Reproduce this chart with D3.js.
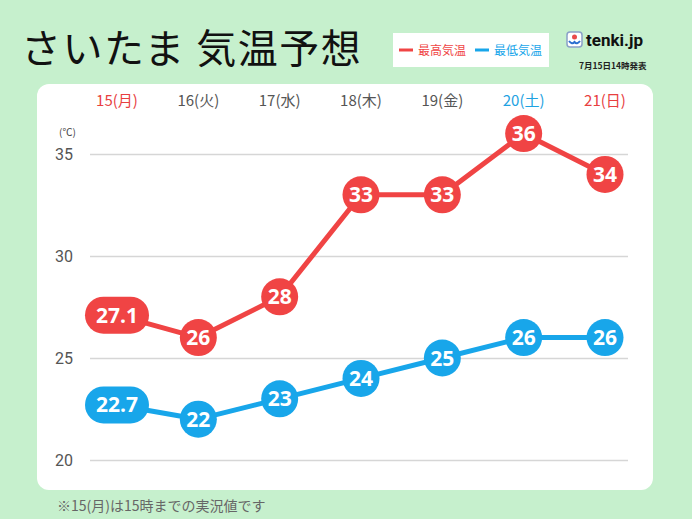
<!DOCTYPE html>
<html>
<head>
<meta charset="utf-8">
<script src="https://cdn.jsdelivr.net/npm/d3@7"></script>
<style>
  body { margin: 0; background: #c6f0cd; }
  svg { display: block; font-family: "Noto Sans CJK JP", "Noto Sans", sans-serif; }
</style>
</head>
<body>
<svg id="chart"></svg>
<script>
// data
const days = ["15(月)", "16(火)", "17(水)", "18(木)", "19(金)", "20(土)", "21(日)"];
const dayColors = ["#e8403f", "#555555", "#555555", "#555555", "#555555", "#1ea2e2", "#e8403f"];
const highs = [27.1, 26, 28, 33, 33, 36, 34];
const lows = [22.7, 22, 23, 24, 25, 26, 26];
const yTicks = [20, 25, 30, 35];

const W = 692, H = 519;
const red = "#f04444", blue = "#18a6ea";

const svg = d3.select("#chart").attr("width", W).attr("height", H);

svg.append("rect").attr("width", W).attr("height", H).attr("fill", "#c6f0cd");

// white panel
svg.append("rect")
    .attr("x", 37).attr("y", 84)
    .attr("width", 616).attr("height", 406)
    .attr("rx", 12)
    .attr("fill", "#fff");

// title
svg.append("text")
    .attr("x", 21).attr("y", 63)
    .attr("font-size", 40)
    .attr("font-weight", 400)
    .attr("letter-spacing", 1.5)
    .attr("fill", "#111")
    .text("さいたま 気温予想");

// legend
const legend = svg.append("g");
legend.append("rect").attr("x", 393).attr("y", 33).attr("width", 156).attr("height", 34).attr("fill", "#fff");
[["最高気温", red, 399], ["最低気温", blue, 475]].forEach(([t, c, x]) => {
    legend.append("line")
        .attr("x1", x).attr("x2", x + 14)
        .attr("y1", 50).attr("y2", 50)
        .attr("stroke", c).attr("stroke-width", 3);
    legend.append("text")
        .attr("x", x + 19).attr("y", 54.5)
        .attr("font-size", 12)
        .attr("fill", c)
        .text(t);
});

// logo
const logo = svg.append("g");
logo.append("rect").attr("x", 567).attr("y", 32).attr("width", 15).attr("height", 15).attr("rx", 3)
    .attr("fill", "#fff").attr("stroke", "#8aa0c8").attr("stroke-width", 1.5);
logo.append("circle").attr("cx", 574.5).attr("cy", 37).attr("r", 2.5).attr("fill", "#e94b4b");
logo.append("path").attr("d", "M569,41 q3,4 5.5,1 q2.5,3 5.5,-1").attr("fill", "none").attr("stroke", "#2b6fd0").attr("stroke-width", 2);
logo.append("text")
    .attr("x", 586).attr("y", 46)
    .attr("font-family", "Roboto, sans-serif")
    .attr("font-size", 17).attr("font-weight", 700)
    .attr("fill", "#111")
    .text("tenki.jp");
logo.append("text")
    .attr("x", 579).attr("y", 69)
    .attr("font-size", 8.5).attr("font-weight", 700)
    .attr("fill", "#222")
    .text("7月15日14時発表");

// scales
const x = d3.scalePoint().domain(days).range([117, 605]);
const y = d3.scaleLinear().domain([20, 35]).range([460, 154]);

// gridlines
const yAxis = d3.axisLeft(y).tickValues(yTicks).tickSize(-538).tickPadding(17);
const gAxis = svg.append("g").attr("transform", "translate(90,0)").call(yAxis);
gAxis.select(".domain").remove();
gAxis.selectAll(".tick line").attr("stroke", "#d6d6d6").attr("stroke-width", 1.5);
gAxis.selectAll(".tick text")
    .attr("fill", "#555").attr("font-size", 16)
    .attr("font-family", "Roboto, 'Noto Sans', sans-serif");

svg.append("text")
    .attr("x", 59).attr("y", 136)
    .attr("font-size", 10).attr("fill", "#444")
    .text("(℃)");

// day labels
svg.selectAll(".day")
    .data(days)
    .join("text")
    .attr("class", "day")
    .attr("x", d => x(d))
    .attr("y", 106)
    .attr("text-anchor", "middle")
    .attr("font-size", 15)
    .attr("fill", (d, i) => dayColors[i])
    .text(d => d);

// series
const line = d3.line().x((d, i) => x(days[i])).y(d => y(d));

function drawSeries(vals, color) {
    const g = svg.append("g");
    g.append("path")
        .datum(vals)
        .attr("d", line)
        .attr("fill", "none")
        .attr("stroke", color)
        .attr("stroke-width", 5)
        .attr("stroke-linejoin", "round");

    const marks = g.selectAll(".mark")
        .data(vals)
        .join("g")
        .attr("class", "mark")
        .attr("transform", (d, i) => `translate(${x(days[i])},${y(d)})`);

    marks.append("rect")
        .attr("x", d => Number.isInteger(d) ? -18.5 : -32)
        .attr("y", -18.5)
        .attr("width", d => Number.isInteger(d) ? 37 : 64)
        .attr("height", 37)
        .attr("rx", 18.5)
        .attr("fill", color);

    marks.append("text")
        .attr("text-anchor", "middle")
        .attr("dy", "0.36em")
        .attr("font-size", 21)
        .attr("font-weight", 700)
        .attr("font-family", "'Open Sans', 'Noto Sans', sans-serif")
        .attr("fill", "#fff")
        .text(d => d);
}

drawSeries(highs, red);
drawSeries(lows, blue);

// footnote
svg.append("text")
    .attr("x", 57).attr("y", 511)
    .attr("font-size", 14)
    .attr("fill", "#666")
    .text("※15(月)は15時までの実況値です");
</script>
</body>
</html>
